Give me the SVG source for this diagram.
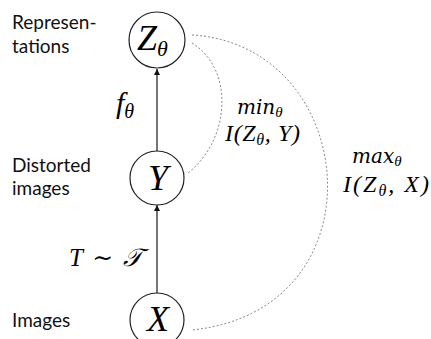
<svg xmlns="http://www.w3.org/2000/svg" width="431" height="339" viewBox="0 0 431 339">
<style>
.lbl{font-family:Lato,"Open Sans",sans-serif;font-size:19px;fill:#111}
.m{font-family:"Liberation Serif","DejaVu Serif",serif;font-style:italic;fill:#000}
.w{font-family:"DejaVu Serif","Liberation Serif",serif;font-style:italic;fill:#000}
.node{fill:#fff;stroke:#222;stroke-width:1.2}
.edge{stroke:#666;stroke-width:1.8;fill:none}
.dash{stroke:#888;stroke-width:1;stroke-dasharray:2 2;fill:none}
</style>
<defs>
<marker id="ah" markerWidth="8" markerHeight="8" refX="6" refY="3" orient="auto" markerUnits="userSpaceOnUse">
<path d="M0,0 L6,3 L0,6 Z" fill="#111"/>
</marker>
</defs>
<rect width="431" height="339" fill="#fff"/>
<g id="connectors">
<path class="edge" d="M157 151 L157 69" marker-end="url(#ah)"/>
<path class="edge" d="M157 293 L157 205" marker-end="url(#ah)"/>
<path class="dash" d="M192 43 C235 70,230 140,188 173"/>
<path class="dash" d="M192 35 C360 45,385 310,192 330"/>
</g>
<g id="labels">
<text class="lbl" x="12" y="29">Represen-</text>
<text class="lbl" x="12" y="53">tations</text>
<text class="lbl" x="12" y="172">Distorted</text>
<text class="lbl" x="12" y="195">images</text>
<text class="lbl" x="12" y="327">Images</text>
<text class="m" x="116" y="113" font-size="30">f<tspan font-size="20" dy="5">θ</tspan></text>
<text class="m" x="69" y="266" font-size="25" textLength="73" lengthAdjust="spacing">T ∼ 𝒯</text>
<text class="w" x="237" y="114" font-size="20" font-weight="300">min<tspan class="m" font-size="15" dy="3">θ</tspan></text>
<text class="m" x="225" y="141" font-size="24" textLength="75" lengthAdjust="spacing">I(Z<tspan font-size="16" dy="4">θ</tspan><tspan dy="-4">, Y)</tspan></text>
<text class="w" x="352" y="163" font-size="20" font-weight="300">max<tspan class="m" font-size="15" dy="3">θ</tspan></text>
<text class="m" x="343" y="192" font-size="24" textLength="86" lengthAdjust="spacing">I(Z<tspan font-size="16" dy="4">θ</tspan><tspan dy="-4">, X)</tspan></text>
</g>
<g id="node-Z">
<circle class="node" cx="157" cy="40" r="28"/>
<text class="m" x="137" y="50" font-size="36">Z<tspan font-size="22" dy="6">θ</tspan></text>
</g>
<g id="node-Y">
<circle class="node" cx="157" cy="178" r="27"/>
<text class="m" x="158" y="190" font-size="36" text-anchor="middle">Y</text>
</g>
<g id="node-X">
<circle class="node" cx="157" cy="320" r="27"/>
<text class="m" x="158" y="331" font-size="36" text-anchor="middle">X</text>
</g>
</svg>
